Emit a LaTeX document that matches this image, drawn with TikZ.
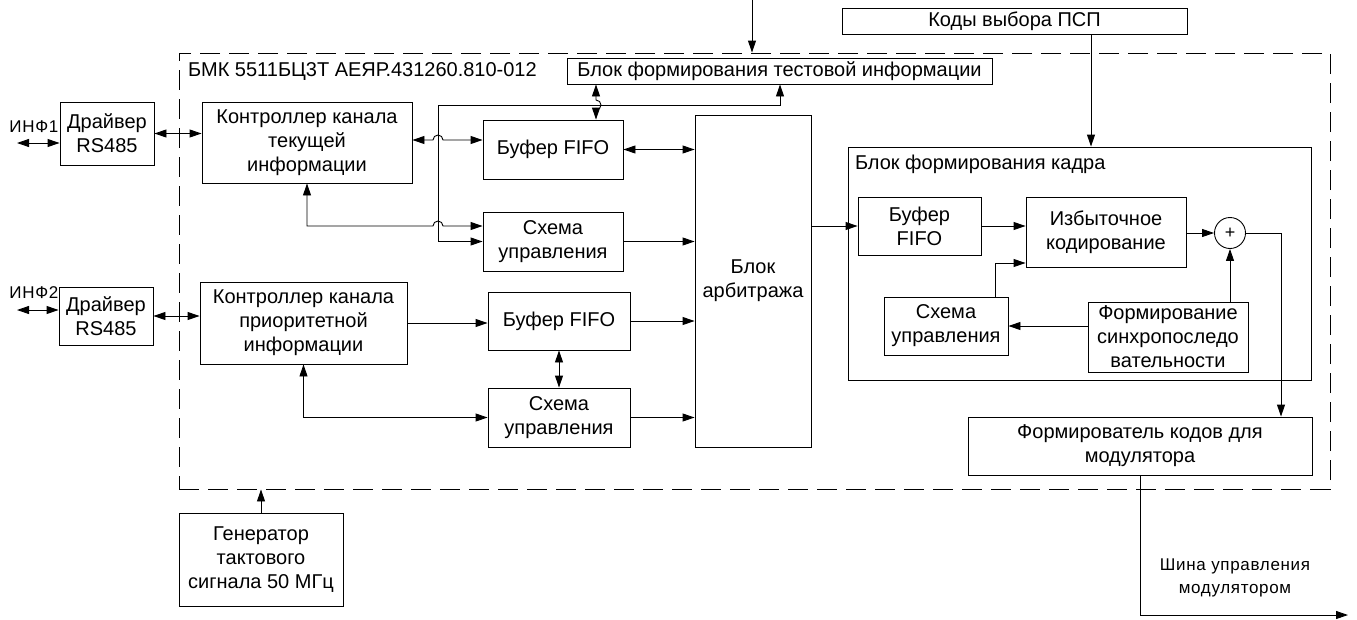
\documentclass[tikz,border=0pt]{standalone}
\usepackage{fontspec}
\setmainfont{Liberation Sans}
\usetikzlibrary{positioning,arrows.meta,calc}

\begin{document}
\begin{tikzpicture}[x=1pt, y=-1pt,
    >={Triangle[length=12pt,width=8pt]}, line width=0.9pt,
    blk/.style={draw, rectangle, align=center, inner sep=0pt,
      font=\fontsize{20}{24}\selectfont},
    lbl/.style={inner sep=0pt, align=center, font=\fontsize{20}{24}\selectfont},
    sml/.style={inner sep=0pt, align=center, font=\fontsize{17}{23}\selectfont\addfontfeature{LetterSpace=4}}]
  \useasboundingbox (0,0) rectangle (1357,619);
  \node[draw, dashed, dash pattern=on 20pt off 9pt, minimum width=1151pt, minimum height=436pt] (bmk) at (754.5,271) {};
  \node[lbl, anchor=west] (bmkt) at ([xshift=9pt,yshift=-19pt]bmk.north west) {БМК 5511БЦ3Т АЕЯР.431260.810-012};
  \node[draw, minimum width=463pt, minimum height=233pt] (frm) at (1079.5,263.5) {};
  \node[lbl, anchor=west] (frmt) at ([xshift=7pt,yshift=-18pt]frm.north west) {Блок формирования кадра};

  \node[blk, minimum width=94pt, minimum height=63pt] (drv1) at (107,133.5) {Драйвер\\RS485};
  \node[blk, minimum width=94pt, minimum height=58pt] (drv2) at (106,316) {Драйвер\\RS485};
  \node[blk, minimum width=210pt, minimum height=81pt] (ctrl1) at (307,142.5) {Контроллер канала\\текущей\\информации};
  \node[blk, minimum width=207pt, minimum height=82pt] (ctrl2) at (303.5,323) {Контроллер канала\\приоритетной\\информации};
  \node[blk, minimum width=140pt, minimum height=59pt] (buf1) at (553,149.5) {Буфер FIFO};
  \node[blk, minimum width=140pt, minimum height=59pt] (sch1) at (553,241.5) {Схема\\управления};
  \node[blk, minimum width=142pt, minimum height=58pt] (buf2) at (559,321) {Буфер FIFO};
  \node[blk, minimum width=142pt, minimum height=59pt] (sch2) at (559,417.5) {Схема\\управления};
  \node[blk, minimum width=116pt, minimum height=332pt] (arb) at (753,281) {Блок\\арбитража};
  \node[blk, minimum width=425pt, minimum height=26pt] (test) at (779.5,71) {Блок формирования тестовой информации};
  \node[blk, minimum width=345pt, minimum height=26pt] (kody) at (1014.5,21) {Коды выбора ПСП};
  \node[blk, minimum width=123pt, minimum height=58pt] (fbuf) at (919.5,226) {Буфер\\FIFO};
  \node[blk, minimum width=160pt, minimum height=70pt] (izb) at (1106,232) {Избыточное\\кодирование};
  \node[draw, circle, minimum size=31pt, inner sep=0pt, font=\fontsize{18}{18}\selectfont] (plus) at (1230,233) {+};
  \node[blk, minimum width=124pt, minimum height=58pt] (sch3) at (946,326) {Схема\\управления};
  \node[blk, minimum width=160pt, minimum height=70pt] (sync) at (1168,337) {Формирование\\синхропоследо\\вательности};
  \node[blk, minimum width=344pt, minimum height=58pt] (fmod) at (1140,446) {Формирователь кодов для\\модулятора};
  \node[blk, minimum width=164pt, minimum height=93pt] (gen) at (261,559.5) {Генератор\\тактового\\сигнала 50 МГц};

  \node[sml, anchor=west] (inf1) at (9,127) {ИНФ1};
  \node[sml, anchor=west] (inf2) at (9,293) {ИНФ2};
  \node[sml] (bust) at (1235,578) {Шина управления\\модулятором};

  \coordinate (in1) at (17,143);
  \coordinate (in2) at (17,310);
  \coordinate (jn) at (438,105);
  \coordinate (k0) at (433,140);
  \coordinate (k1) at (433,226);
  \coordinate (k2) at (596,100);
  \coordinate (k3) at (780,105);
  \coordinate (k4) at (995,263);
  \coordinate (k5) at (1281,0);
  \coordinate (k6) at (1091,0);
  \coordinate (tin) at (752,0);
  \coordinate (bus) at (1348,615);

  \draw[<->] (in1) -- (in1 -| drv1.west);
  \draw[<->] (in2) -- (in2 -| drv2.west);
  \draw[<->] (drv1.east) -- (drv1.east -| ctrl1.west);
  \draw[<->] (drv2.east) -- (drv2.east -| ctrl2.west);
  \draw[<->] (ctrl1.east |- k0) -- (k0) arc[start angle=180, end angle=360, radius=5] -- (k0 -| buf1.west);
  \draw[<->] (ctrl1.south) |- (k1) arc[start angle=180, end angle=360, radius=5] -- (k1 -| sch1.west);
  \draw[<->] (k3 |- test.south) -- (k3) -- (jn) |- (sch1.west);
  \draw[<->] (k2 |- test.south) -- (k2) arc[start angle=-90, end angle=90, radius=5] -- (k2 |- buf1.north);
  \draw[<->] (buf1.east) -- (buf1.east -| arb.west);
  \draw[->] (sch1.east) -- (sch1.east -| arb.west);
  \draw[->] (ctrl2.east) -- (ctrl2.east -| buf2.west);
  \draw[->] (buf2.east) -- (buf2.east -| arb.west);
  \draw[<->] (buf2.south) -- (sch2.north);
  \draw[->] (sch2.east) -- (sch2.east -| arb.west);
  \draw[<->] (ctrl2.south) |- (sch2.west);
  \draw[->] (arb.east |- fbuf.west) -- (fbuf.west);
  \draw[->] (fbuf.east) -- (fbuf.east -| izb.west);
  \draw[->] (izb.east |- plus.west) -- (plus.west);
  \draw[->] (plus.south |- sync.north) -- (plus.south);
  \draw[->] (sch3.east -| sync.west) -- (sch3.east);
  \draw[->] (k4 |- sch3.north) -- (k4) -- (k4 -| izb.west);
  \draw[->] (plus.east) -- (plus.east -| k5) -- (k5 |- fmod.north);
  \draw[->] (k6 |- kody.south) -- (k6 |- frm.north);
  \draw[->] (tin) -- (tin |- bmk.north);
  \draw[->] (gen.north) -- (gen.north |- bmk.south);
  \draw[->] (fmod.south) |- (bus);
\end{tikzpicture}
\end{document}
